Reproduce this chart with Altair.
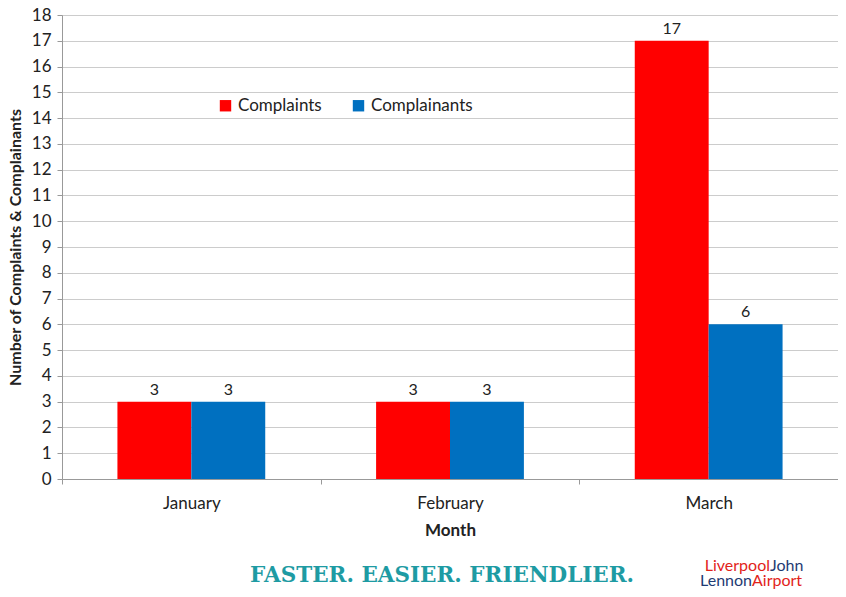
import altair as alt
import pandas as pd

months = ["January", "February", "March"]
complaints = [3, 3, 17]
complainants = [3, 3, 6]
series = ["Complaints", "Complainants"]
colors = ["#FF0000", "#0070C0"]
y_ticks = list(range(0, 19))

rows = []
for m, a, b in zip(months, complaints, complainants):
    rows.append({"Month": m, "Series": "Complaints", "Value": a})
    rows.append({"Month": m, "Series": "Complainants", "Value": b})
df = pd.DataFrame(rows)

FONT = "Lato"

x = alt.X("Month:N", sort=months,
          scale=alt.Scale(paddingInner=0, paddingOuter=0),
          axis=alt.Axis(title="Month", labelAngle=0, tickBand="extent", ticks=True,
                        tickSize=5, tickColor="#999999", domainColor="#999999",
                        labelFontSize=17, labelColor="#222222", labelPadding=11,
                        titleFontSize=17, titleFontWeight="bold", titleColor="#222222",
                        titlePadding=11, labelFont=FONT, titleFont=FONT))
xo = alt.XOffset("Series:N", sort=series, scale=alt.Scale(paddingOuter=0.75, paddingInner=0))
y = alt.Y("Value:Q", scale=alt.Scale(domain=[0, 18], nice=False),
          axis=alt.Axis(title="Number of Complaints & Complainants", values=y_ticks,
                        tickCount=19, format="d", labelOverlap=False,
                        tickSize=5, tickColor="#999999", domainColor="#999999",
                        gridColor="#cccccc", labelFontSize=17, labelColor="#222222",
                        labelPadding=6, titleFontSize=16, titleFontWeight="bold",
                        titleColor="#222222", titlePadding=8, labelFont=FONT, titleFont=FONT))

bars = alt.Chart(df).mark_bar().encode(
    x=x, xOffset=xo, y=y,
    color=alt.Color("Series:N", sort=series,
                    scale=alt.Scale(domain=series, range=colors),
                    legend=alt.Legend(title=None, orient="none", legendX=155, legendY=82,
                                      direction="horizontal", symbolType="square",
                                      symbolSize=130, symbolStrokeWidth=0,
                                      labelFontSize=17, labelFont=FONT,
                                      labelColor="#222222", columnPadding=28)),
)
labels = alt.Chart(df).mark_text(dy=-12, fontSize=16, font=FONT, color="#222222").encode(
    x=x, xOffset=xo, y=y, text="Value:Q")

footer = alt.Chart(pd.DataFrame({"t": ["FASTER. EASIER. FRIENDLIER."]})).mark_text(
    font="DejaVu Serif", fontWeight="bold", fontSize=21.5, color="#1E9BA3", align="left",
    baseline="middle").encode(x=alt.value(188), y=alt.value(561), text="t:N")

logo_parts = pd.DataFrame({
    "t": ["Liverpool", "John", "Lennon", "Airport"],
    "px": [708, 708, 690, 690],
    "py": [551, 551, 566, 566],
    "a": ["r", "l", "r", "l"],
    "c": ["red", "navy", "navy", "red"],
})
logo_base = alt.Chart(logo_parts)
logo_color = alt.Color("c:N", scale=alt.Scale(domain=["red", "navy"], range=["#E2231A", "#1F3B73"]),
                       legend=None)
logo_l = logo_base.transform_filter(alt.datum.a == "l").mark_text(
    font=FONT, fontSize=16, align="left", baseline="middle").encode(
    x=alt.X("px:Q", scale=None), y=alt.Y("py:Q", scale=None), text="t:N", color=logo_color)
logo_r = logo_base.transform_filter(alt.datum.a == "r").mark_text(
    font=FONT, fontSize=16, align="right", baseline="middle").encode(
    x=alt.X("px:Q", scale=None), y=alt.Y("py:Q", scale=None), text="t:N", color=logo_color)

chart = alt.layer(bars, labels, footer, logo_l, logo_r).resolve_scale(color="independent").properties(
    width=776, height=464,
    autosize=alt.AutoSizeParams(type="none"),
    padding={"left": 54, "top": 7, "right": 0, "bottom": 110},
).configure_view(stroke=None).configure(background="white")

chart.save("out.html", embed_options={"renderer": "svg", "actions": False})
